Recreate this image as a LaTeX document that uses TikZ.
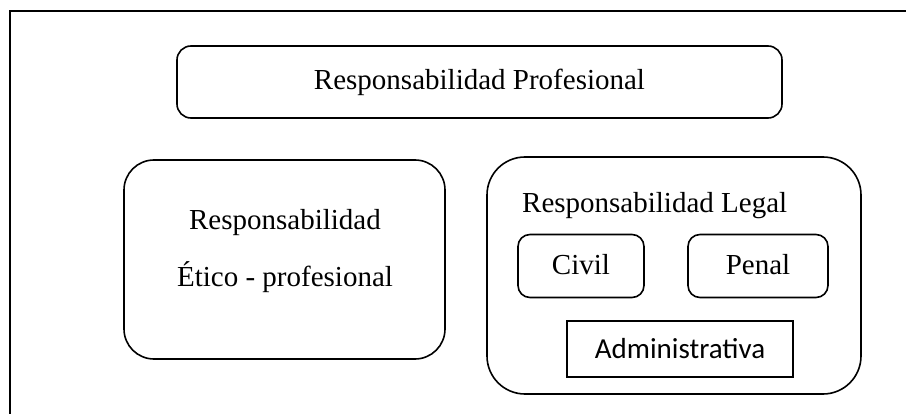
\documentclass[tikz,border=0pt]{standalone}
\usepackage{fontspec}
\setmainfont{Liberation Serif}
\newfontfamily\calfont{Carlito}
\begin{document}
\begin{tikzpicture}[x=1pt,y=-1pt,
  frameline/.style={line width=2pt},
  boxline/.style={draw, line width=1.6pt, inner sep=0pt, outer sep=0pt},
  rbox/.style={boxline, rectangle, rounded corners=#1},
  lbl/.style={anchor=base, inner sep=0pt, font=\fontsize{29}{35}\selectfont},
  sanslbl/.style={anchor=base, inner sep=0pt, font=\calfont\fontsize{29}{35}\selectfont}]
\useasboundingbox (0,0) rectangle (906,414);
\fill[white] (0,0) rectangle (906,414);
% outer frame (only top and left visible)
\coordinate (fbl) at (9.5,420);
\coordinate (ftl) at (9.5,11);
\coordinate (ftr) at (912,11);
\draw[frameline] (fbl) -- (ftl) -- (ftr);
% top box
\node[rbox=14pt, minimum width=605pt, minimum height=72pt] (top) at (479.5,82) {};
\node[lbl] (toplbl) at (479.5,89.5) {Responsabilidad Profesional};
% left box
\node[rbox=30pt, minimum width=321pt, minimum height=199pt] (left) at (284.5,259.5) {};
\node[lbl] (leftlbl1) at (285,230) {Responsabilidad};
\node[lbl] (leftlbl2) at (285,287) {Ético - profesional};
% right box
\node[rbox=38pt, minimum width=374pt, minimum height=237pt] (right) at (674,275.5) {};
\node[lbl, anchor=base west] (rightlbl) at (522,212.5) {Responsabilidad Legal};
% civil
\node[rbox=12pt, minimum width=126pt, minimum height=63pt] (civil) at (581,266) {};
\node[lbl] (civillbl) at (581,275) {Civil};
% penal
\node[rbox=12pt, minimum width=140pt, minimum height=63pt] (penal) at (758,266) {};
\node[lbl] (penallbl) at (758,275) {Penal};
% administrativa
\node[rbox=0pt, minimum width=226pt, minimum height=56pt] (admin) at (680,349) {};
\node[sanslbl] (adminlbl) at (680,358.5) {Administrativa};
\end{tikzpicture}
\end{document}
